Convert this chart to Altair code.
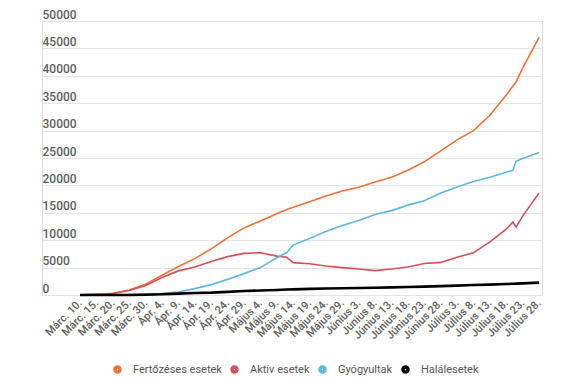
import altair as alt
import pandas as pd

dates = ["2020-03-10", "2020-03-15", "2020-03-20", "2020-03-25", "2020-03-30",
         "2020-04-04", "2020-04-09", "2020-04-14", "2020-04-19", "2020-04-24",
         "2020-04-29", "2020-05-04", "2020-05-09", "2020-05-12", "2020-05-14",
         "2020-05-19", "2020-05-24", "2020-05-29", "2020-06-03", "2020-06-08",
         "2020-06-13", "2020-06-18", "2020-06-23", "2020-06-28", "2020-07-03",
         "2020-07-08", "2020-07-13", "2020-07-18", "2020-07-20", "2020-07-21",
         "2020-07-23", "2020-07-28"]

fertozeses = [25, 131, 308, 906, 1952, 3613, 5202, 6633, 8418, 10417,
              12240, 13512, 14811, 15588, 16002, 17036, 18070, 18982, 19669, 20604,
              21500, 22760, 24300, 26300, 28300, 30000, 32800, 36500, 38100, 38900,
              41400, 47000]
aktiv = [25, 122, 277, 809, 1736, 3200, 4400, 5100, 6100, 7000,
         7600, 7700, 7100, 6900, 5900, 5700, 5300, 5000, 4750, 4450,
         4750, 5100, 5750, 5950, 6900, 7700, 9700, 12000, 13300, 12400,
         14400, 18600]
gyogyultak = [0, 9, 31, 86, 170, 260, 550, 1160, 1890, 2850,
              3900, 5000, 6800, 7700, 9100, 10300, 11600, 12700, 13600, 14700,
              15400, 16400, 17200, 18600, 19700, 20700, 21500, 22400, 22750, 24400,
              24900, 26000]
halalesetek = [0, 0, 0, 11, 46, 146, 248, 372, 428, 567,
               735, 811, 924, 990, 1028, 1120, 1185, 1244, 1288, 1326,
               1383, 1451, 1525, 1612, 1712, 1817, 1891, 1994, 2040, 2070,
               2120, 2250]

series_names = ["Fertőzéses esetek", "Aktív esetek", "Gyógyultak", "Halálesetek"]
series_colors = ["#EE7035", "#D6505B", "#5DB7E3", "#000000"]

tick_labels = ["Márc. 10.", "Márc. 15.", "Márc. 20.", "Márc. 25.", "Márc. 30.",
               "Ápr. 4.", "Ápr. 9.", "Ápr. 14.", "Ápr. 19.", "Ápr. 24.", "Ápr. 29.",
               "Május 4.", "Május 9.", "Május 14.", "Május 19.", "Május 24.", "Május 29.",
               "Június 3.", "Június 8.", "Június 13.", "Június 18.", "Június 23.", "Június 28.",
               "Július 3.", "Július 8.", "Július 13.", "Július 18.", "Július 23.", "Július 28."]
y_ticks = [0, 5000, 10000, 15000, 20000, 25000, 30000, 35000, 40000, 45000, 50000]

start = pd.Timestamp("2020-03-10")
days = [(pd.Timestamp(d) - start).days for d in dates]

rows = []
for name, vals in zip(series_names, [fertozeses, aktiv, gyogyultak, halalesetek]):
    for d, v in zip(days, vals):
        rows.append({"day": d, "value": v, "series": name})
df = pd.DataFrame(rows)

label_expr = "[" + ",".join("'" + t + "'" for t in tick_labels) + "][round(datum.value / 5)]"

font = "Roboto"

x_enc = alt.X("day:Q",
              scale=alt.Scale(domain=[-11.6, 140.9], nice=False, zero=False),
              axis=alt.Axis(values=list(range(0, 141, 5)), labelExpr=label_expr, title=None,
                            grid=False, ticks=False, domain=False, labelAngle=-45,
                            labelAlign="right", labelBaseline="middle", labelPadding=6,
                            labelFlush=False, labelOverlap=False, labelFontSize=11,
                            labelColor="#606060", labelFont=font, labelFontWeight=500))
y_enc = alt.Y("value:Q",
              scale=alt.Scale(domain=[0, 50000], nice=False),
              axis=alt.Axis(values=y_ticks, title=None, format="d", labelAlign="left",
                            labelBaseline="alphabetic", labelPadding=0, tickSize=0, ticks=False,
                            domain=False, gridColor="#e4e4e4", gridWidth=1, labelOffset=-3,
                            labelOverlap=False, labelFontSize=12, labelColor="#606060",
                            labelFont=font, labelFontWeight=500))
color_scale = alt.Scale(domain=series_names, range=series_colors)

chart = alt.Chart(df).mark_line(interpolate="linear").encode(
    x=x_enc,
    y=y_enc,
    color=alt.Color("series:N", scale=color_scale, sort=series_names,
                    legend=alt.Legend(orient="none", legendX=70, legendY=343, title=None,
                                      direction="horizontal", gridAlign="none",
                                      symbolType="circle", symbolSize=12, symbolStrokeWidth=5,
                                      symbolOpacity=1,
                                      labelFontSize=11, labelColor="#555555", labelFont=font,
                                      columnPadding=0, labelOffset=10)),
    strokeWidth=alt.condition(alt.datum.series == "Halálesetek", alt.value(2.6), alt.value(1.6)),
).properties(
    width=500, height=274,
    padding={"left": 34, "top": 13, "right": 15, "bottom": 80},
    autosize=alt.AutoSizeParams(type="none"),
).configure_view(stroke=None).configure_axis(labelOverlap=False).configure(font=font)

chart.save("out.html", embed_options={"renderer": "svg", "actions": False})
